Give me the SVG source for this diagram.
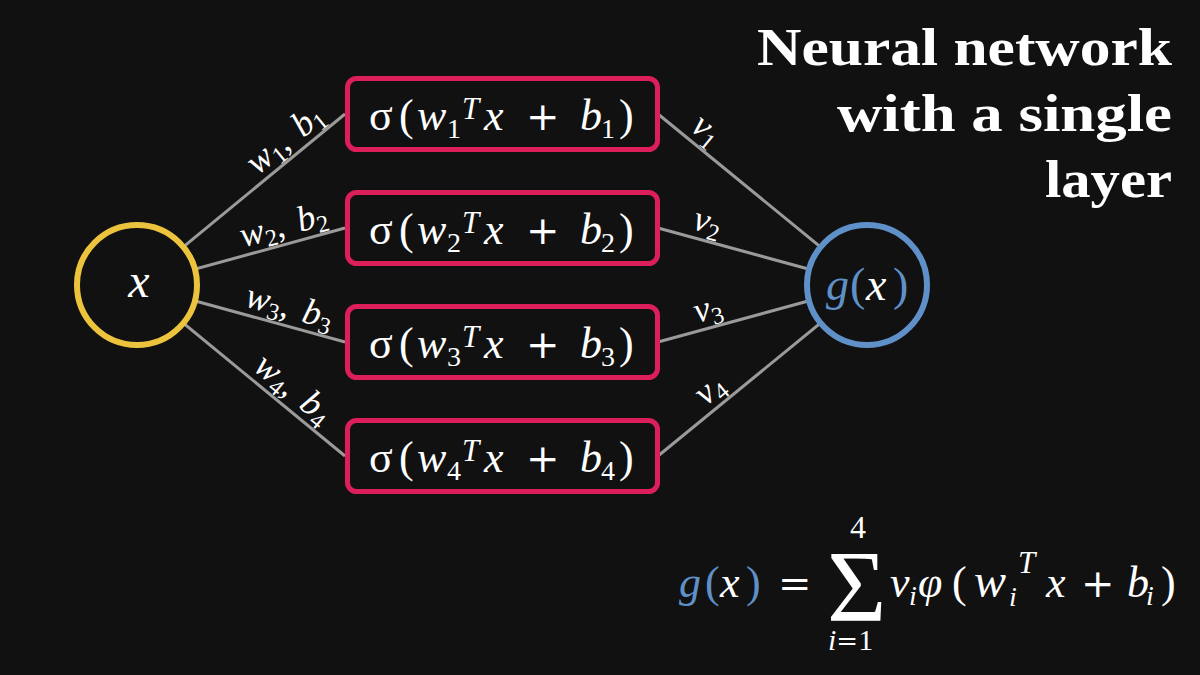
<svg xmlns="http://www.w3.org/2000/svg" width="1200" height="675" viewBox="0 0 1200 675">
<style>
.bg{fill:#111111}
.edge{stroke:#9a9a9a;stroke-width:3;fill:none}
.box{fill:#111111;stroke:#dc1f5b;stroke-width:5}
.w{fill:#ffffff}
.blue{fill:#5f90c8}
</style>
<rect class="bg" x="0" y="0" width="1200" height="675"/>
<g id="connectors">
<line class="edge" x1="137" y1="285" x2="345" y2="114"/>
<line class="edge" x1="137" y1="285" x2="345" y2="228"/>
<line class="edge" x1="137" y1="285" x2="345" y2="342"/>
<line class="edge" x1="137" y1="285" x2="345" y2="456"/>
<line class="edge" x1="658" y1="114" x2="867" y2="285"/>
<line class="edge" x1="658" y1="228" x2="867" y2="285"/>
<line class="edge" x1="658" y1="342" x2="867" y2="285"/>
<line class="edge" x1="658" y1="456" x2="867" y2="285"/>
<g class="w" font-family="Liberation Serif, serif" font-size="36">
<g transform="translate(297,153.6) rotate(-39.4)"><text font-family="Liberation Serif, serif" text-anchor="middle" y="-8"><tspan font-style="italic">w</tspan><tspan font-size="24" dy="6">1</tspan><tspan dy="-6">,</tspan><tspan font-style="italic" dx="14">b</tspan><tspan font-size="24" dy="6">1</tspan></text></g>
<g transform="translate(288.4,243.5) rotate(-15.3)"><text font-family="Liberation Serif, serif" text-anchor="middle" y="-8"><tspan font-style="italic">w</tspan><tspan font-size="24" dy="6">2</tspan><tspan dy="-6">,</tspan><tspan font-style="italic" dx="14">b</tspan><tspan font-size="24" dy="6">2</tspan></text></g>
<g transform="translate(284.5,325.4) rotate(15.3)"><text font-family="Liberation Serif, serif" text-anchor="middle" y="-8"><tspan font-style="italic">w</tspan><tspan font-size="24" dy="6">3</tspan><tspan dy="-6">,</tspan><tspan font-style="italic" dx="14">b</tspan><tspan font-size="24" dy="6">3</tspan></text></g>
<g transform="translate(281.4,403.7) rotate(39.4)"><text font-family="Liberation Serif, serif" text-anchor="middle" y="-8"><tspan font-style="italic">w</tspan><tspan font-size="24" dy="6">4</tspan><tspan dy="-6">,</tspan><tspan font-style="italic" dx="14">b</tspan><tspan font-size="24" dy="6">4</tspan></text></g>
<g transform="translate(695,144.3) rotate(39.3)"><text font-family="Liberation Serif, serif" text-anchor="middle" y="-8"><tspan font-style="italic">v</tspan><tspan font-size="24" dy="6">1</tspan></text></g>
<g transform="translate(702.9,240.2) rotate(15.3)"><text font-family="Liberation Serif, serif" text-anchor="middle" y="-8"><tspan font-style="italic">v</tspan><tspan font-size="24" dy="6">2</tspan></text></g>
<g transform="translate(712.6,327.1) rotate(-15.3)"><text font-family="Liberation Serif, serif" text-anchor="middle" y="-8"><tspan font-style="italic">v</tspan><tspan font-size="24" dy="6">3</tspan></text></g>
<g transform="translate(721.5,404.1) rotate(-39.3)"><text font-family="Liberation Serif, serif" text-anchor="middle" y="-8"><tspan font-style="italic">v</tspan><tspan font-size="24" dy="6">4</tspan></text></g>
</g>
</g>
<g id="input">
<circle cx="137" cy="285" r="60" fill="#111111" stroke="#ecc33d" stroke-width="6"/>
<text class="w" font-family="Liberation Serif, serif" font-style="italic" x="139" y="297" font-size="48" text-anchor="middle">x</text>
</g>
<g id="output">
<circle cx="867" cy="285" r="60" fill="#111111" stroke="#5f90c8" stroke-width="6"/>
<text class="w" font-family="Liberation Serif, serif" font-size="46" y="300"><tspan class="blue" font-style="italic" x="826">g</tspan><tspan class="blue" x="850">(</tspan><tspan font-style="italic" x="866">x</tspan><tspan class="blue" x="893">)</tspan></text>
</g>
<g id="hidden1">
<rect class="box" x="347.5" y="78.5" width="310" height="71" rx="9"/>
<text class="w" font-family="Liberation Serif, serif" font-size="44" y="130"><tspan x="369">σ</tspan><tspan x="399">(</tspan><tspan font-style="italic" x="417">w</tspan><tspan x="447" y="138" font-size="28">1</tspan><tspan font-style="italic" x="462" y="119" font-size="31">T</tspan><tspan font-style="italic" x="484" y="130">x</tspan><tspan font-family="DejaVu Serif, serif" x="526" font-size="40">+</tspan><tspan font-style="italic" x="580">b</tspan><tspan x="601" y="138" font-size="28">1</tspan><tspan x="619" y="130">)</tspan></text>
</g>
<g id="hidden2">
<rect class="box" x="347.5" y="192.5" width="310" height="71" rx="9"/>
<text class="w" font-family="Liberation Serif, serif" font-size="44" y="244"><tspan x="369">σ</tspan><tspan x="399">(</tspan><tspan font-style="italic" x="417">w</tspan><tspan x="447" y="252" font-size="28">2</tspan><tspan font-style="italic" x="462" y="233" font-size="31">T</tspan><tspan font-style="italic" x="484" y="244">x</tspan><tspan font-family="DejaVu Serif, serif" x="526" font-size="40">+</tspan><tspan font-style="italic" x="580">b</tspan><tspan x="601" y="252" font-size="28">2</tspan><tspan x="619" y="244">)</tspan></text>
</g>
<g id="hidden3">
<rect class="box" x="347.5" y="306.5" width="310" height="71" rx="9"/>
<text class="w" font-family="Liberation Serif, serif" font-size="44" y="358"><tspan x="369">σ</tspan><tspan x="399">(</tspan><tspan font-style="italic" x="417">w</tspan><tspan x="447" y="366" font-size="28">3</tspan><tspan font-style="italic" x="462" y="347" font-size="31">T</tspan><tspan font-style="italic" x="484" y="358">x</tspan><tspan font-family="DejaVu Serif, serif" x="526" font-size="40">+</tspan><tspan font-style="italic" x="580">b</tspan><tspan x="601" y="366" font-size="28">3</tspan><tspan x="619" y="358">)</tspan></text>
</g>
<g id="hidden4">
<rect class="box" x="347.5" y="420.5" width="310" height="71" rx="9"/>
<text class="w" font-family="Liberation Serif, serif" font-size="44" y="472"><tspan x="369">σ</tspan><tspan x="399">(</tspan><tspan font-style="italic" x="417">w</tspan><tspan x="447" y="480" font-size="28">4</tspan><tspan font-style="italic" x="462" y="461" font-size="31">T</tspan><tspan font-style="italic" x="484" y="472">x</tspan><tspan font-family="DejaVu Serif, serif" x="526" font-size="40">+</tspan><tspan font-style="italic" x="580">b</tspan><tspan x="601" y="480" font-size="28">4</tspan><tspan x="619" y="472">)</tspan></text>
</g>
<g id="title" class="w" font-family="Liberation Serif, serif" font-weight="bold" font-size="52">
<text x="1172" y="65" text-anchor="end" textLength="415" lengthAdjust="spacingAndGlyphs">Neural network</text>
<text x="1172" y="131" text-anchor="end" textLength="335" lengthAdjust="spacingAndGlyphs">with a single</text>
<text x="1172" y="197" text-anchor="end" textLength="127" lengthAdjust="spacingAndGlyphs">layer</text>
</g>
<g id="formula" class="w">
<text font-family="Liberation Serif, serif" font-size="44" y="597"><tspan class="blue" font-style="italic" x="679">g</tspan><tspan class="blue" x="705">(</tspan><tspan font-style="italic" x="720">x</tspan><tspan class="blue" x="746">)</tspan><tspan font-family="DejaVu Serif, serif" x="778" font-size="40">=</tspan></text>
<text font-family="Liberation Serif, serif" font-size="102" x="827" y="621">Σ</text>
<text font-family="Liberation Serif, serif" font-size="32" x="850" y="538">4</text>
<text font-family="Liberation Serif, serif" font-size="30" x="828" y="650"><tspan font-style="italic">i</tspan><tspan font-family="DejaVu Serif, serif" font-size="26">=</tspan><tspan>1</tspan></text>
<text font-family="Liberation Serif, serif" font-size="44" y="597"><tspan font-style="italic" x="890">v</tspan><tspan font-style="italic" x="909" y="605" font-size="28">i</tspan><tspan font-style="italic" x="918" y="597">φ</tspan><tspan x="952">(</tspan><tspan font-style="italic" x="974" font-size="48">w</tspan><tspan font-style="italic" x="1009" y="606" font-size="28">i</tspan><tspan font-style="italic" x="1018" y="573" font-size="31">T</tspan><tspan font-style="italic" x="1046" y="597" font-size="44">x</tspan><tspan font-family="DejaVu Serif, serif" x="1081" font-size="40">+</tspan><tspan font-style="italic" x="1127" font-size="44">b</tspan><tspan font-style="italic" x="1146" y="605" font-size="28">i</tspan><tspan x="1161" y="597">)</tspan></text>
</g>
</svg>
